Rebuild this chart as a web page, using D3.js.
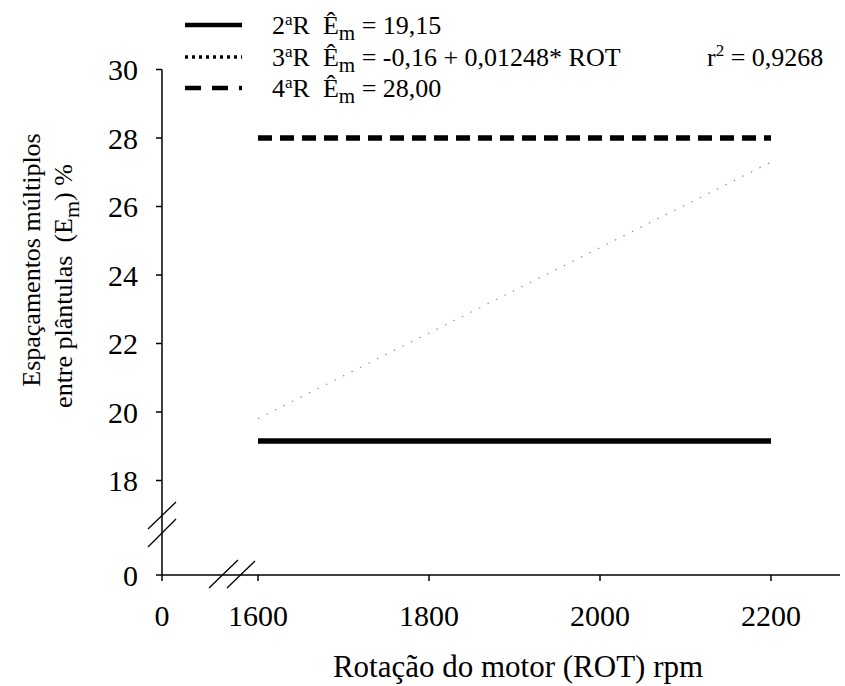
<!DOCTYPE html>
<html>
<head>
<meta charset="utf-8">
<script src="https://cdn.jsdelivr.net/npm/d3@7"></script>
<style>
  html, body { margin: 0; padding: 0; background: #fff; }
  svg { display: block; }
</style>
</head>
<body>
<svg id="chart" width="845" height="686"></svg>
<script>
// Rotation range and fitted models for each treatment
const rotation = [1600, 2200];
const xTicks = [1600, 1800, 2000, 2200];
const yTicks = [18, 20, 22, 24, 26, 28, 30];
const series = ["2ªR", "3ªR", "4ªR"];
const constant2R = 19.15;
const intercept3R = -0.16;
const slope3R = 0.01248;
const constant4R = 28.00;
const r2Label = "0,9268";
const equationText = ["= 19,15", "= -0,16 + 0,01248* ROT", "= 28,00"];

const FONT = '"Liberation Serif"';
const svg = d3.select("#chart");

// Text helper: serif face set directly on each text node, spaces kept
function addText(parent, size) {
  return parent.append("text").style("font-family", FONT).style("font-size", size + "px")
    .style("white-space", "pre");
}

// Broken axes: a main segment plus the origin
const x = d3.scaleLinear().domain([1600, 2200]).range([258, 771]);
const y = d3.scaleLinear().domain([18, 30]).range([480.5, 69.5]);
const x0 = 162, y0 = 575, xEnd = 840;

const ink = "#000";

// axis lines
svg.append("line").attr("x1", x0).attr("x2", x0).attr("y1", y0).attr("y2", y(30))
  .attr("stroke", ink).attr("stroke-width", 1.5);
svg.append("line").attr("x1", x0).attr("x2", xEnd).attr("y1", y0).attr("y2", y0)
  .attr("stroke", ink).attr("stroke-width", 1.5);

// y ticks
const yTickVals = yTicks.map(v => ({ v, py: y(v) })).concat([{ v: 0, py: y0 }]);
svg.append("g").selectAll("line").data(yTickVals).join("line")
  .attr("x1", x0 - 6).attr("x2", x0).attr("y1", d => d.py).attr("y2", d => d.py)
  .attr("stroke", ink).attr("stroke-width", 1.5);
svg.append("g").selectAll("text").data(yTickVals).join("text")
  .style("font-family", FONT).style("font-size", "30px")
  .attr("x", 138).attr("y", d => d.py).attr("dy", "0.35em")
  .attr("text-anchor", "end").text(d => d.v);

// x ticks
const xTickVals = xTicks.map(v => ({ v, px: x(v) })).concat([{ v: 0, px: x0 }]);
svg.append("g").selectAll("line").data(xTickVals).join("line")
  .attr("x1", d => d.px).attr("x2", d => d.px).attr("y1", y0).attr("y2", y0 + 6)
  .attr("stroke", ink).attr("stroke-width", 1.5);
svg.append("g").selectAll("text").data(xTickVals).join("text")
  .style("font-family", FONT).style("font-size", "30px")
  .attr("x", d => d.px).attr("y", 626)
  .attr("text-anchor", "middle").text(d => d.v);

// axis break marks
const breakMarks = [
  [148, 529, 176, 502], [148, 547, 176, 519],
  [209, 588, 238, 560], [227, 588, 255, 561]
];
svg.append("g").selectAll("line").data(breakMarks).join("line")
  .attr("x1", d => d[0]).attr("y1", d => d[1]).attr("x2", d => d[2]).attr("y2", d => d[3])
  .attr("stroke", ink).attr("stroke-width", 1.3);

// axis titles
addText(svg, 31).attr("x", 518).attr("y", 677).attr("text-anchor", "middle")
  .text("Rotação do motor (ROT) rpm");

const yt = svg.append("g").attr("transform", "translate(0,260) rotate(-90)");
addText(yt, 26).attr("x", 0).attr("y", 40).attr("text-anchor", "middle")
  .text("Espaçamentos múltiplos");
const yt2 = addText(yt, 26).attr("x", -26).attr("y", 72).attr("text-anchor", "middle");
yt2.append("tspan").text("entre plântulas  (E");
yt2.append("tspan").style("font-size", "22px").attr("dy", 7).text("m");
yt2.append("tspan").attr("dy", -7).text(") %");

// data lines
const line = d3.line().x(d => x(d[0])).y(d => y(d[1]));
const data2R = rotation.map(r => [r, constant2R]);
const data3R = rotation.map(r => [r, intercept3R + slope3R * r]);
const data4R = rotation.map(r => [r, constant4R]);

svg.append("path").datum(data3R).attr("d", line).attr("fill", "none")
  .attr("stroke", "#8a8a8a").attr("stroke-width", 1.1).attr("stroke-dasharray", "1.5,8");
svg.append("path").datum(data2R).attr("d", line).attr("fill", "none")
  .attr("stroke", ink).attr("stroke-width", 5.5);
svg.append("path").datum(data4R).attr("d", line).attr("fill", "none")
  .attr("stroke", ink).attr("stroke-width", 5.5).attr("stroke-dasharray", "14,8");

// legend
const legendRows = [
  { key: series[0], dash: null, width: 4.5, y: 25 },
  { key: series[1], dash: "3,4", width: 3.5, y: 57 },
  { key: series[2], dash: "16,11", width: 4.5, y: 88 }
];
const lg = svg.append("g");
lg.selectAll("line").data(legendRows).join("line")
  .attr("x1", 185).attr("x2", 242).attr("y1", d => d.y).attr("y2", d => d.y)
  .attr("stroke", ink).attr("stroke-width", d => d.width)
  .attr("stroke-dasharray", d => d.dash);

legendRows.forEach((row, i) => {
  const t = addText(lg, 26).attr("x", 272).attr("y", row.y + 9);
  t.append("tspan").text(row.key.replace("ªR", ""));
  t.append("tspan").style("font-size", "17px").attr("dy", -9).text("a");
  t.append("tspan").attr("dy", 9).text("R  Ê");
  t.append("tspan").style("font-size", "21px").attr("dy", 6).text("m");
  t.append("tspan").attr("dy", -6).text(" " + equationText[i]);
});

const rt = addText(lg, 26).attr("x", 707).attr("y", legendRows[1].y + 9);
rt.append("tspan").text("r");
rt.append("tspan").style("font-size", "17px").attr("dy", -10).text("2");
rt.append("tspan").attr("dy", 10).text(" = " + r2Label);
</script>
</body>
</html>
